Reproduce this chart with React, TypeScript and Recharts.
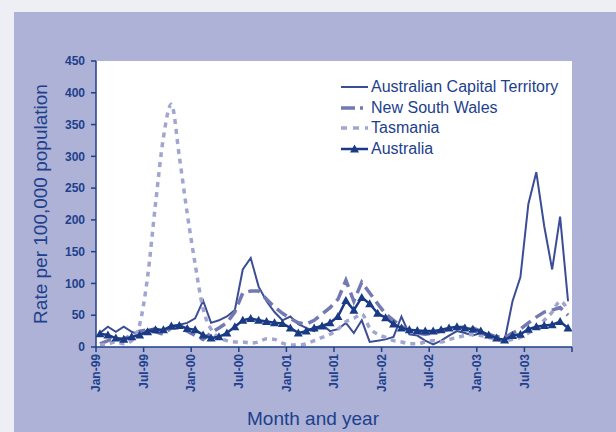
import React from 'react';
import { LineChart, Line, XAxis, YAxis } from 'recharts';

const months = [
  'Jan-99','Feb-99','Mar-99','Apr-99','May-99','Jun-99','Jul-99','Aug-99','Sep-99','Oct-99','Nov-99','Dec-99',
  'Jan-00','Feb-00','Mar-00','Apr-00','May-00','Jun-00','Jul-00','Aug-00','Sep-00','Oct-00','Nov-00','Dec-00',
  'Jan-01','Feb-01','Mar-01','Apr-01','May-01','Jun-01','Jul-01','Aug-01','Sep-01','Oct-01','Nov-01','Dec-01',
  'Jan-02','Feb-02','Mar-02','Apr-02','May-02','Jun-02','Jul-02','Aug-02','Sep-02','Oct-02','Nov-02','Dec-02',
  'Jan-03','Feb-03','Mar-03','Apr-03','May-03','Jun-03','Jul-03','Aug-03','Sep-03','Oct-03','Nov-03','Dec-03',
];

const actValues = [
  22, 32, 24, 32, 24, 19, 27, 30, 25, 32, 35, 38,
  45, 73, 38, 42, 48, 58, 122, 140, 95, 72, 55, 42,
  48, 36, 30, 25, 35, 25, 28, 38, 22, 42, 8, 10,
  12, 16, 48, 20, 18, 10, 4, 10, 18, 25, 22, 18,
  22, 16, 14, 10, 72, 110, 225, 275, 190, 122, 205, 72,
];

const nswValues = [
  5, 10, 12, 13, 18, 25, 27, 24, 20, 30, 30, 25,
  18, 12, 22, 30, 38, 55, 85, 88, 88, 75, 63, 53,
  45, 38, 36, 42, 52, 62, 75, 105, 72, 102, 85, 68,
  52, 42, 32, 26, 22, 20, 22, 25, 28, 30, 32, 30,
  25, 20, 16, 15, 22, 28, 38, 47, 55, 58, 62, 50,
];

const tasValues = [
  3, 5, 8, 5, 10, 35, 110, 225, 330, 382, 300, 210,
  130, 60, 28, 15, 10, 8, 8, 6, 8, 13, 12, 6,
  3, 3, 5, 10, 15, 20, 28, 40, 45, 52, 30, 20,
  15, 10, 8, 5, 5, 8, 10, 8, 12, 15, 18, 20,
  18, 15, 12, 10, 12, 15, 22, 30, 42, 55, 72, 58,
];

const ausValues = [
  21, 19, 14, 12, 16, 19, 24, 27, 27, 33, 34, 29,
  27, 19, 14, 16, 22, 32, 42, 45, 42, 40, 38, 37,
  30, 22, 25, 30, 33, 38, 48, 73, 58, 78, 68, 53,
  46, 36, 30, 27, 26, 25, 25, 27, 30, 32, 30, 28,
  25, 19, 14, 11, 18, 20, 28, 32, 34, 35, 40, 30,
];

const xTickLabels = ['Jan-99','Jul-99','Jan-00','Jul-00','Jan-01','Jul-01','Jan-02','Jul-02','Jan-03','Jul-03',''];
const yTicks = [0, 50, 100, 150, 200, 250, 300, 350, 400, 450];

const seriesNames = ['Australian Capital Territory', 'New South Wales', 'Tasmania', 'Australia'];

const data = months.map((m, i) => ({
  idx: i,
  month: m,
  act: actValues[i],
  nsw: nswValues[i],
  tas: tasValues[i],
  aus: ausValues[i],
}));

const xTicks = xTickLabels.map((_, k) => k * 6 - 0.5);

const FONT = '"Liberation Sans", Arial, sans-serif';
const AXIS = '#1f3f88';
const TEXT = '#1d3f8c';
const C_ACT = '#3b4d95';
const C_NSW = '#7379b2';
const C_TAS = '#a0a5d1';
const C_AUS = '#1a3a85';

const XTick = (props: any) => {
  const { x, y, payload } = props;
  const k = Math.round((payload.value + 0.5) / 6);
  const label = xTickLabels[k] ?? '';
  return (
    <text
      transform={`translate(${x},${y}) rotate(-90)`}
      textAnchor="end"
      dy="0.35em"
      fill={TEXT}
      fontSize={12}
      fontWeight="bold"
      fontFamily={FONT}
    >
      {label}
    </text>
  );
};

const TriDot = (props: any) => {
  const { cx, cy, index } = props;
  if (cx == null || cy == null) return null;
  return (
    <polygon
      key={`tri-${index}`}
      points={`${cx},${cy - 4.5} ${cx - 4.5},${cy + 3.5} ${cx + 4.5},${cy + 3.5}`}
      fill={C_AUS}
    />
  );
};

const legendRows = [
  { name: seriesNames[0], color: C_ACT, width: 2, dash: undefined as string | undefined, tri: false },
  { name: seriesNames[1], color: C_NSW, width: 3.5, dash: '14 5 3 5', tri: false },
  { name: seriesNames[2], color: C_TAS, width: 3.5, dash: '6 6', tri: false },
  { name: seriesNames[3], color: C_AUS, width: 2.5, dash: undefined, tri: true },
];

const LegendBox = () => (
  <div style={{ position: 'absolute', left: 340, top: 77, fontFamily: FONT }}>
    {legendRows.map((r) => (
      <div key={r.name} style={{ display: 'flex', alignItems: 'center', height: 20.5 }}>
        <svg width={30} height={20} style={{ display: 'block' }}>
          <line x1={1} y1={10} x2={28} y2={10} stroke={r.color} strokeWidth={r.width} strokeDasharray={r.dash} />
          {r.tri && <polygon points="14.5,5.5 10,13.5 19,13.5" fill={r.color} />}
        </svg>
        <span style={{ fontSize: 16, color: TEXT, marginLeft: 1, whiteSpace: 'nowrap' }}>{r.name}</span>
      </div>
    ))}
  </div>
);

export default function App() {
  return (
    <div style={{ position: 'absolute', left: 0, top: 0, width: 616, height: 432, background: '#eeeff5', overflow: 'hidden' }}>
      <div style={{ position: 'absolute', left: 14, top: 12, width: 602, height: 420, background: '#adb2d6' }} />
      <div style={{ position: 'absolute', left: 96, top: 61, width: 476, height: 286, background: '#ffffff' }} />
      <div style={{ position: 'absolute', left: 0, top: 0 }}>
        <LineChart width={616} height={432} data={data} margin={{ top: 61, right: 44, bottom: 35, left: 36 }}>
          <XAxis
            dataKey="idx"
            type="number"
            domain={[-0.5, 59.5]}
            ticks={xTicks}
            interval={0}
            tick={<XTick />}
            tickSize={5}
            tickMargin={2}
            height={50}
            axisLine={{ stroke: AXIS, strokeWidth: 1.5 }}
            tickLine={{ stroke: AXIS, strokeWidth: 1.5 }}
            allowDataOverflow
          />
          <YAxis
            type="number"
            domain={[0, 450]}
            ticks={yTicks}
            interval={0}
            width={60}
            tickSize={5}
            tickMargin={6}
            axisLine={{ stroke: AXIS, strokeWidth: 1.5 }}
            tickLine={{ stroke: AXIS, strokeWidth: 1.5 }}
            tick={{ fill: TEXT, fontSize: 12, fontWeight: 'bold', fontFamily: FONT }}
          />
          <Line dataKey="act" name={seriesNames[0]} type="linear" stroke={C_ACT} strokeWidth={2} dot={false} isAnimationActive={false} />
          <Line dataKey="nsw" name={seriesNames[1]} type="linear" stroke={C_NSW} strokeWidth={3.5} strokeDasharray="12 6" dot={false} isAnimationActive={false} />
          <Line dataKey="tas" name={seriesNames[2]} type="monotone" stroke={C_TAS} strokeWidth={3.5} strokeDasharray="5 5" dot={false} isAnimationActive={false} />
          <Line dataKey="aus" name={seriesNames[3]} type="linear" stroke={C_AUS} strokeWidth={2.5} dot={<TriDot />} isAnimationActive={false} />
        </LineChart>
      </div>
      <LegendBox />
      <svg style={{ position: 'absolute', left: 0, top: 0, pointerEvents: 'none' }} width={616} height={432}>
        <text x={313} y={418} textAnchor="middle" dominantBaseline="central" fontSize={19} fill={TEXT} fontFamily={FONT}>
          Month and year
        </text>
        <text
          transform="translate(40,204) rotate(-90)"
          textAnchor="middle"
          dominantBaseline="central"
          fontSize={19}
          fill={TEXT}
          fontFamily={FONT}
        >
          Rate per 100,000 population
        </text>
      </svg>
    </div>
  );
}
